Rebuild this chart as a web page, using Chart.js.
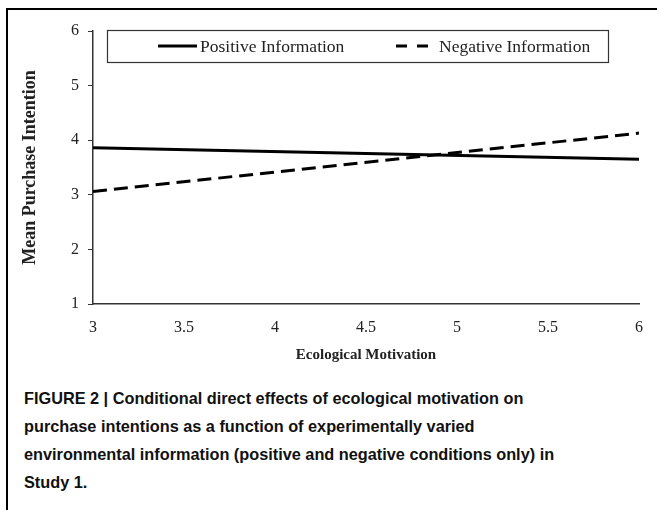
<!DOCTYPE html>
<html lang="en">
<head>
  <meta charset="UTF-8" />
  <title>Conditional direct effects of ecological motivation</title>
  <script src="https://cdn.jsdelivr.net/npm/chart.js"></script>
  <style>
    body { margin: 0; background: #fff; width: 657px; height: 510px; overflow: hidden; position: relative; }
    .frame { position: absolute; left: 6px; top: 8px; right: -4px; bottom: -4px; border-left: 2px solid #000; border-top: 2px solid #000; }
    .wrap { position: absolute; left: 0; top: 0; width: 657px; height: 380px; }
    .caption { position: absolute; left: 24px; top: 384px; font-family: "Liberation Sans", Arial, sans-serif; font-weight: bold; font-size: 16.3px; line-height: 28px; color: #111; }
    .caption div { white-space: nowrap; }
  </style>
</head>
<body>
  <div class="frame"></div>
  <div class="wrap"><canvas id="chart"></canvas></div>
  <div class="caption">
    <div>FIGURE 2 | Conditional direct effects of ecological motivation on</div>
    <div>purchase intentions as a function of experimentally varied</div>
    <div>environmental information (positive and negative conditions only) in</div>
    <div>Study 1.</div>
  </div>

  <script>
    // values
    const motivation = [3, 6];
    const positiveInfo = [3.86, 3.65];
    const negativeInfo = [3.06, 4.13];
    const xTicks = [3, 3.5, 4, 4.5, 5, 5.5, 6];
    const yTicks = [1, 2, 3, 4, 5, 6];

    const serif = '"Liberation Serif", "Times New Roman", serif';

    // boxed legend drawn inside the plot, like the original
    const boxLegend = {
      id: 'boxLegend',
      afterDraw(chart) {
        const c = chart.ctx;
        c.save();
        c.strokeStyle = '#333';
        c.lineWidth = 1.2;
        c.strokeRect(107.5, 30.5, 501, 32);
        const items = [
          { ds: chart.data.datasets[0], x0: 158, x1: 197, tx: 200 },
          { ds: chart.data.datasets[1], x0: 396, x1: 428, tx: 439 }
        ];
        c.font = '17.5px ' + serif;
        c.textBaseline = 'middle';
        items.forEach(it => {
          c.strokeStyle = '#000';
          c.lineWidth = 3;
          c.setLineDash(it.ds.borderDash ? [11, 10] : []);
          c.beginPath();
          c.moveTo(it.x0, 46);
          c.lineTo(it.x1, 46);
          c.stroke();
          c.setLineDash([]);
          c.fillStyle = '#222';
          c.fillText(it.ds.label, it.tx, 47);
        });
        c.restore();
      }
    };

    const ctx = document.getElementById('chart').getContext('2d');
    const chart = new Chart(ctx, {
      type: 'line',
      data: {
        datasets: [{
          label: 'Positive Information',
          data: motivation.map((x, i) => ({ x: x, y: positiveInfo[i] })),
          borderColor: '#000',
          borderWidth: 3,
          pointRadius: 0
        }, {
          label: 'Negative Information',
          data: motivation.map((x, i) => ({ x: x, y: negativeInfo[i] })),
          borderColor: '#000',
          borderWidth: 3,
          borderDash: [14, 7],
          pointRadius: 0
        }]
      },
      options: {
        responsive: true,
        maintainAspectRatio: false,
        animation: false,
        layout: { padding: { left: 0, top: 31, right: 13, bottom: 0 } },
        plugins: { legend: { display: false }, tooltip: { enabled: false } },
        scales: {
          x: {
            type: 'linear',
            min: 3, max: 6,
            afterBuildTicks: s => { s.ticks = xTicks.map(v => ({ value: v })); },
            afterFit: s => { s.height = 76; },
            grid: { drawOnChartArea: false, drawTicks: false },
            border: { color: '#333', width: 1.5 },
            ticks: { color: '#222', padding: 14, font: { family: serif, size: 16 }, callback: v => String(v) },
            title: { display: true, text: 'Ecological Motivation', color: '#222', padding: { top: 0, bottom: 16 }, font: { family: serif, size: 15, weight: 'bold' } }
          },
          y: {
            min: 1, max: 6,
            afterBuildTicks: s => { s.ticks = yTicks.map(v => ({ value: v })); },
            afterFit: s => { s.width = 93; },
            grid: { drawOnChartArea: false, drawTicks: true, tickLength: 5, color: '#333' },
            border: { color: '#333', width: 1.5 },
            ticks: { color: '#222', padding: 9, font: { family: serif, size: 16 }, callback: v => String(v) },
            title: { display: true, text: 'Mean Purchase Intention', color: '#222', padding: { top: 20, bottom: 0 }, font: { family: serif, size: 18, weight: 'bold' } }
          }
        }
      },
      plugins: [boxLegend]
    });
  </script>
</body>
</html>
